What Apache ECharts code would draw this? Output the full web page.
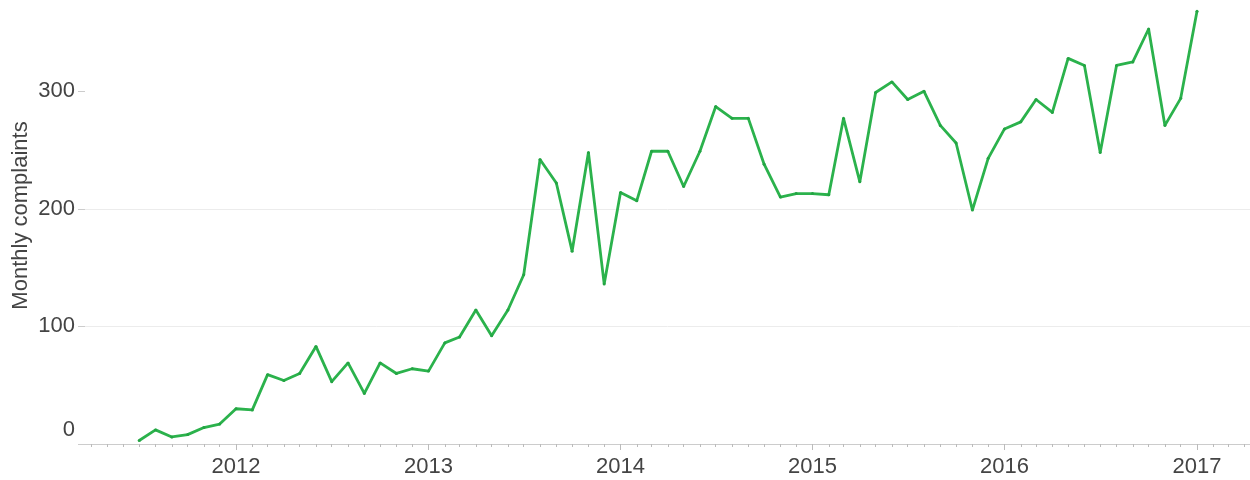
<!DOCTYPE html>
<html lang="en">
<head>
    <meta charset="UTF-8">
    <title>Monthly complaints</title>
    <script src="https://cdn.jsdelivr.net/npm/echarts@6/dist/echarts.min.js"></script>
</head>
<style>
    html,body{
        padding: 0;
        margin: 0;
        background: #fff;
    }
</style>
<body>
<div id="chart" style="width: 1250px;height:480px;"></div>
</body>
<script type="text/javascript">
    // months of the series (yyyy-mm)
    var months = [
        '2011-07','2011-08','2011-09','2011-10','2011-11','2011-12',
        '2012-01','2012-02','2012-03','2012-04','2012-05','2012-06','2012-07','2012-08','2012-09','2012-10','2012-11','2012-12',
        '2013-01','2013-02','2013-03','2013-04','2013-05','2013-06','2013-07','2013-08','2013-09','2013-10','2013-11','2013-12',
        '2014-01','2014-02','2014-03','2014-04','2014-05','2014-06','2014-07','2014-08','2014-09','2014-10','2014-11','2014-12',
        '2015-01','2015-02','2015-03','2015-04','2015-05','2015-06','2015-07','2015-08','2015-09','2015-10','2015-11','2015-12',
        '2016-01','2016-02','2016-03','2016-04','2016-05','2016-06','2016-07','2016-08','2016-09','2016-10','2016-11','2016-12',
        '2017-01'
    ];
    var complaints = [
        3, 12, 6, 8, 14, 17,
        30, 29, 59, 54, 60, 83, 53, 69, 43, 69, 60, 64,
        62, 86, 91, 114, 92, 114, 144, 242, 222, 164, 248, 136,
        214, 207, 249, 249, 219, 249, 287, 277, 277, 238, 210, 213,
        213, 212, 277, 223, 299, 308, 293, 300, 271, 256, 199, 243,
        268, 274, 293, 282, 328, 322, 248, 322, 325, 353, 271, 294,
        368
    ];
    var yearTicks = [2012, 2013, 2014, 2015, 2016, 2017];
    var yTicks = [0, 100, 200, 300];

    function ts(y, m) { return Date.UTC(y, m - 1, 1); }
    function monthTs(s) {
        var p = s.split('-');
        return ts(parseInt(p[0]), parseInt(p[1]));
    }

    var seriesData = months.map(function (m, i) { return [monthTs(m), complaints[i]]; });
    var yearValues = yearTicks.map(function (y) { return ts(y, 1); });

    // axis extent: 2012 at x=236, 2017 at x=1197, grid from 85 to 1250
    var gridLeft = 85, plotRight = 1250;
    var pxPerMs = (1197 - 236) / (ts(2017, 1) - ts(2012, 1));
    var xMin = ts(2012, 1) - (236 - gridLeft) / pxPerMs;
    var xMax = ts(2017, 1) + (plotRight - 1197) / pxPerMs;

    var minorValues = [];
    for (var y = 2011; y <= 2017; y++) {
        for (var m = 1; m <= 12; m++) {
            var t = ts(y, m);
            if (t > xMin && t < xMax && m !== 1) minorValues.push(t);
        }
    }

    var font = "'Liberation Sans', Arial, sans-serif";
    var textColor = '#444';

    var myChart = echarts.init(document.getElementById('chart'));
    var option = {
        animation: false,
        textStyle: {fontFamily: font},
        grid: {left: gridLeft, right: 0, top: 9, bottom: 36, containLabel: false},
        xAxis: [{
            type: 'value',
            min: xMin,
            max: xMax,
            axisLine: {show: true, lineStyle: {color: '#cccccc', width: 1}},
            axisTick: {show: true, length: 6, customValues: yearValues, lineStyle: {color: '#bbbbbb'}},
            axisLabel: {
                customValues: yearValues,
                fontSize: 22,
                fontFamily: font,
                color: textColor,
                margin: 12,
                formatter: function (v) { return String(new Date(v).getUTCFullYear()); }
            },
            splitLine: {show: false}
        }, {
            type: 'value',
            min: xMin,
            max: xMax,
            position: 'bottom',
            axisLine: {show: false},
            axisTick: {show: true, length: 3, customValues: minorValues, lineStyle: {color: '#bbbbbb'}},
            axisLabel: {show: false},
            splitLine: {show: false}
        }],
        yAxis: {
            type: 'value',
            min: 0,
            max: 370,
            name: 'Monthly complaints',
            nameLocation: 'middle',
            nameRotate: 90,
            nameGap: 53,
            nameMoveOverlap: false,
            nameTextStyle: {fontSize: 22, fontFamily: font, color: textColor, padding: [0, 0, 0, 22]},
            axisLine: {show: false},
            axisTick: {show: true, length: 7, customValues: yTicks, lineStyle: {color: '#cccccc'}},
            axisLabel: {
                customValues: yTicks,
                fontSize: 22,
                fontFamily: font,
                color: textColor,
                margin: 10,
                formatter: function (v) { return v === 0 ? '{z|0}' : String(v); },
                rich: {
                    z: {fontSize: 22, fontFamily: font, color: textColor, padding: [0, 0, 28, 0]}
                }
            },
            splitLine: {show: true, showMaxLine: false, lineStyle: {color: '#ececec', width: 1}}
        },
        series: [{
            name: 'Monthly complaints',
            type: 'line',
            data: seriesData,
            symbol: 'circle',
            symbolSize: 3,
            showSymbol: true,
            lineStyle: {color: '#2bb24c', width: 2.8},
            itemStyle: {color: '#23a443'}
        }]
    };
    myChart.setOption(option);
</script>
</html>
